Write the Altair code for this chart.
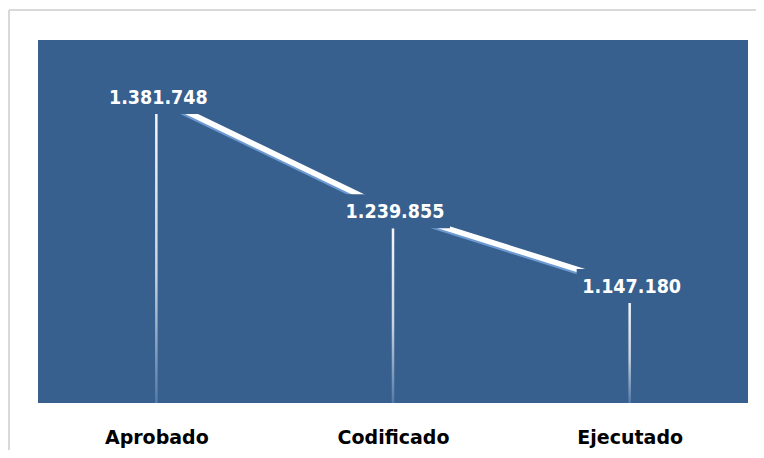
import altair as alt
import pandas as pd

categories = ["Aprobado", "Codificado", "Ejecutado"]
values = [1381748, 1239855, 1147180]
labels = ["1.381.748", "1.239.855", "1.147.180"]

df = pd.DataFrame({"cat": categories, "val": values, "label": labels})

Y_MIN, Y_MAX = 1023000, 1473500
W, H = 710, 363
BLUE = "#37608F"

x = alt.X(
    "cat:N",
    sort=categories,
    scale=alt.Scale(type="point", padding=0.5),
    axis=alt.Axis(
        title=None, labelAngle=0, labelFont="DejaVu Sans", labelFontWeight="bold",
        labelFontSize=19, labelColor="#000000", labelPadding=25, ticks=False,
        tickSize=0, domain=False, grid=False, labelBaseline="top",
    ),
)
y = alt.Y("val:Q", scale=alt.Scale(domain=[Y_MIN, Y_MAX], zero=False, nice=False), axis=None)

base = alt.Chart(df).encode(x=x, y=y)

grad = alt.Gradient(
    gradient="linear",
    stops=[
        alt.GradientStop(color="#F4F6F9", offset=0),
        alt.GradientStop(color="#C9D3E1", offset=0.55),
        alt.GradientStop(color="#557AA7", offset=1),
    ],
    x1=0, x2=0, y1=0, y2=1,
)

drops = base.mark_bar(width=2.5, fill=grad).encode(y2=alt.datum(Y_MIN))

shadow = base.mark_line(color="#6E9AD2", strokeWidth=5, yOffset=-15, xOffset=-1.5)
line = base.mark_line(color="#FFFFFF", strokeWidth=5.5, yOffset=-17)

mask = base.mark_point(
    shape="M-1,-0.31L1,-0.31L1,0.31L-1,0.31Z",
    size=12100, filled=True, fill=BLUE, opacity=1, strokeWidth=0,
    yOffset=-17, xOffset=2,
)

text = base.mark_text(
    font="DejaVu Sans Condensed", fontWeight="bold", fontSize=19.5, color="#FFFFFF",
    baseline="alphabetic", dy=-10, dx=2,
).encode(text="label:N")

frame_v = alt.Chart(df).mark_rule(color="#D9D9D9", strokeWidth=1.5).encode(
    x=alt.value(-29), y=alt.value(-30), y2=alt.value(420)
)
frame_h = alt.Chart(df).mark_rule(color="#D9D9D9", strokeWidth=1.5).encode(
    x=alt.value(-29), x2=alt.value(730), y=alt.value(-30)
)

chart = (
    alt.layer(frame_v, frame_h, drops, shadow, line, mask, text)
    .properties(
        width=W, height=H,
        autosize=alt.AutoSizeParams(type="none"),
        padding={"left": 30, "top": 32, "right": 8, "bottom": 47},
        background="#FFFFFF",
    )
    .configure_view(fill=BLUE, strokeWidth=0)
)

chart.save("out.html", embed_options={"renderer": "svg", "actions": False})
